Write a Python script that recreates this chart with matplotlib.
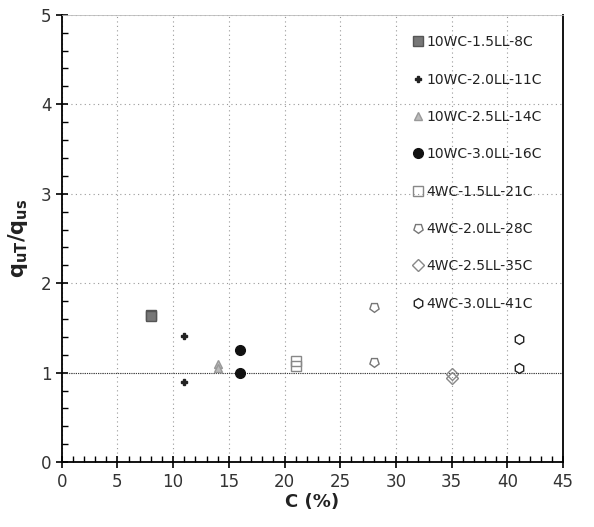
import matplotlib
matplotlib.use("Agg")
import matplotlib.pyplot as plt
from matplotlib.ticker import MultipleLocator

# series names, clay content (%) and q_uT/q_us ratios
series_names = ["10WC-1.5LL-8C", "10WC-2.0LL-11C", "10WC-2.5LL-14C", "10WC-3.0LL-16C",
                "4WC-1.5LL-21C", "4WC-2.0LL-28C", "4WC-2.5LL-35C", "4WC-3.0LL-41C"]
clay = [8, 11, 14, 16, 21, 28, 35, 41]
ratio_a = [1.65, 1.41, 1.10, 1.25, 1.13, 1.73, 0.98, 1.38]
ratio_b = [1.63, 0.90, 1.05, 1.00, 1.08, 1.12, 0.94, 1.05]

markers = ["s", "P", "^", "o", "s", (5, 0, 180), "D", "h"]
faces = ["#777777", "#222222", "#bbbbbb", "#111111", "none", "none", "none", "none"]
edges = ["#555555", "#222222", "#999999", "#111111", "#888888", "#777777", "#888888", "#222222"]
sizes = [7, 5, 6, 7, 7, 7, 6, 7]

fig = plt.figure(figsize=(5.94, 5.27), dpi=100)
ax = fig.add_axes([0.104, 0.123, 0.844, 0.849])

for i in range(len(series_names)):
    ax.plot([clay[i], clay[i]], [ratio_a[i], ratio_b[i]], linestyle="none",
            marker=markers[i], markersize=sizes[i], markerfacecolor=faces[i],
            markeredgecolor=edges[i], markeredgewidth=1.0, label=series_names[i])

# reference line at ratio = 1
ax.axhline(1.0, color="#333333", lw=0.8, ls=(0, (1, 1)), zorder=1)

ax.set_xlim(0, 45)
ax.set_ylim(0, 5)
ax.xaxis.set_major_locator(MultipleLocator(5))
ax.xaxis.set_minor_locator(MultipleLocator(1))
ax.yaxis.set_major_locator(MultipleLocator(1))
ax.yaxis.set_minor_locator(MultipleLocator(0.2))
ax.grid(True, which="major", color="#999999", lw=0.8, ls=(0, (1, 3)))
ax.set_axisbelow(True)

ax.tick_params(which="major", direction="inout", length=8, width=1.2, labelsize=12,
               labelcolor="#333333")
ax.tick_params(which="minor", direction="in", length=4, width=1.0)
for s in ["left", "bottom", "right"]:
    ax.spines[s].set_linewidth(1.3)
ax.spines["top"].set_linewidth(0.6)
ax.spines["top"].set_color("#bbbbbb")

ax.set_xlabel("C (%)", fontsize=13, fontweight="bold", color="#222222", labelpad=2)
ax.set_ylabel(r"$\mathbf{q_{uT}/q_{us}}$", fontsize=15, color="#222222", labelpad=8)

ax.legend(loc="upper right", frameon=False, fontsize=10, handletextpad=0.1,
          labelspacing=1.68, borderaxespad=0.6, handlelength=1.0,
          labelcolor="#222222", bbox_to_anchor=(0.985, 0.985))

fig.savefig("out.png", dpi=100)
